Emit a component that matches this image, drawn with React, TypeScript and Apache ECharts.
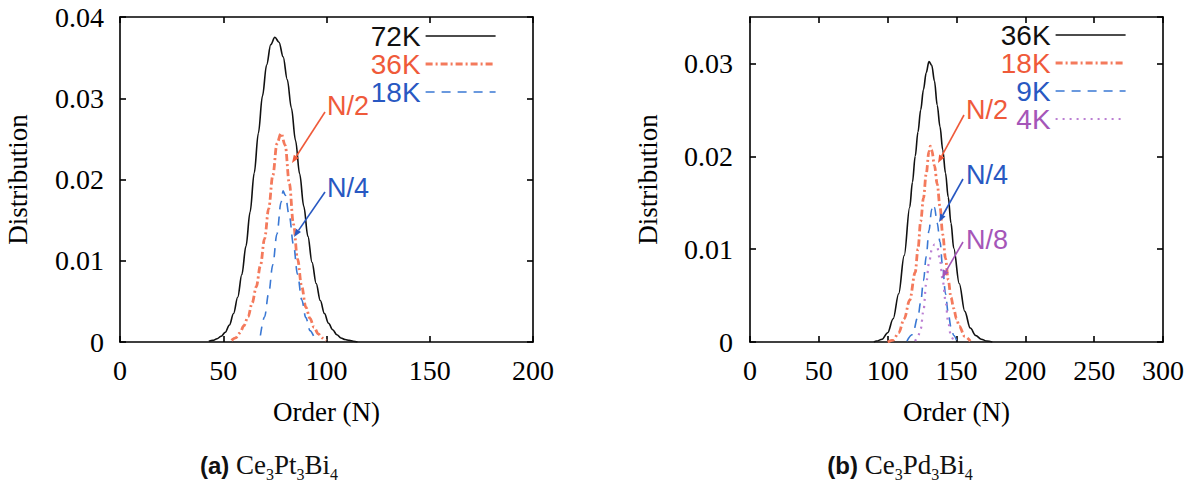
import React, { useEffect, useRef } from "react";
import * as echarts from "echarts";

// ---------- Panel (a) Ce3Pt3Bi4 ----------
const aOrder72K = [43, 45, 47, 49, 51, 53, 55, 57, 59, 61, 63, 65, 67, 69, 71, 73, 75, 77, 79, 81, 83, 85, 87, 89, 91, 93, 95, 97, 99, 101, 103, 105, 107, 109, 111, 113, 115];
const aDist72K = [0.0001, 0.0002, 0.0004, 0.0007, 0.0012, 0.0021, 0.0035, 0.0055, 0.0083, 0.0118, 0.016, 0.0208, 0.0257, 0.0303, 0.0341, 0.0366, 0.0375, 0.0369, 0.0351, 0.0323, 0.0288, 0.0248, 0.0207, 0.0167, 0.013, 0.0098, 0.0072, 0.0051, 0.0035, 0.0023, 0.0015, 0.0009, 0.0005, 0.0003, 0.0002, 0.0001, 0.0];

const aOrder36K = [54, 56, 58, 60, 62, 64, 66, 68, 70, 72, 74, 76, 78, 80, 82, 84, 86, 88, 90, 92, 94, 96, 98, 100];
const aDist36K = [0.0002, 0.0005, 0.0011, 0.002, 0.0031, 0.0048, 0.0068, 0.0094, 0.0127, 0.0164, 0.0205, 0.0244, 0.0257, 0.0242, 0.0195, 0.0145, 0.0102, 0.0068, 0.0043, 0.0029, 0.0018, 0.001, 0.0005, 0.0002];

const aOrder18K = [68, 70, 72, 74, 76, 78, 79, 80, 82, 84, 86, 88, 90, 92, 94];
const aDist18K = [0.0008, 0.0031, 0.006, 0.0095, 0.0133, 0.0172, 0.0186, 0.0181, 0.0155, 0.012, 0.0083, 0.0052, 0.003, 0.0014, 0.0006];

// ---------- Panel (b) Ce3Pd3Bi4 ----------
const bOrder36K = [90, 92, 96, 100, 104, 108, 112, 116, 118, 120, 122, 124, 126, 128, 130, 132, 134, 136, 138, 140, 142, 144, 146, 148, 152, 156, 160, 164, 168, 172, 176];
const bDist36K = [0.0, 0.0001, 0.0003, 0.001, 0.0025, 0.0052, 0.0093, 0.0145, 0.0172, 0.02, 0.0226, 0.025, 0.0272, 0.029, 0.0302, 0.0298, 0.0281, 0.0255, 0.0232, 0.0207, 0.0182, 0.0156, 0.0128, 0.0101, 0.0063, 0.0033, 0.0015, 0.0007, 0.0003, 0.0001, 0.0];

const bOrder18K = [100, 104, 108, 112, 116, 120, 122, 124, 126, 128, 130, 131, 132, 134, 136, 138, 140, 142, 144, 146, 148, 150, 152, 156, 160];
const bDist18K = [0.0, 0.0002, 0.001, 0.0025, 0.0045, 0.0075, 0.01, 0.013, 0.0155, 0.0181, 0.0205, 0.0211, 0.0207, 0.019, 0.017, 0.0146, 0.0116, 0.009, 0.0067, 0.0048, 0.0036, 0.0025, 0.0017, 0.0006, 0.0001];

const bOrder9K = [114, 118, 122, 124, 126, 128, 130, 132, 133, 134, 136, 138, 140, 142, 144, 146, 148, 150];
const bDist9K = [0.0001, 0.0008, 0.0027, 0.0043, 0.0066, 0.0092, 0.012, 0.0143, 0.0148, 0.0145, 0.0128, 0.0108, 0.008, 0.0052, 0.0031, 0.0016, 0.0007, 0.0002];

const bOrder4K = [120, 122, 124, 126, 128, 130, 132, 134, 136, 138, 140, 142, 144, 146, 148];
const bDist4K = [0.0001, 0.0006, 0.0014, 0.0034, 0.0063, 0.0085, 0.0099, 0.0105, 0.0102, 0.0088, 0.0066, 0.0045, 0.0021, 0.0006, 0.0001];

const legendA = ["72K", "36K", "18K"];
const legendB = ["36K", "18K", "9K", "4K"];
const xTicksA = { min: 0, max: 200, interval: 50 };
const xTicksB = { min: 0, max: 300, interval: 50 };
const yTicksA = { min: 0, max: 0.04, interval: 0.01 };
const yTicksB = { min: 0, max: 0.035, interval: 0.01 };

const BLACK = "#111111";
const RED_LINE = "#f47a5c";
const RED_TEXT = "#ef5a3a";
const BLUE_LINE = "#3a78d4";
const BLUE_TEXT = "#2858c2";
const PURPLE_LINE = "#bb7fd3";
const PURPLE_TEXT = "#a556b8";

const SERIF = "'Liberation Serif', 'Times New Roman', serif";
const SANS = "'Liberation Sans', Arial, sans-serif";

const zip = (xs: number[], ys: number[]) => xs.map((x, i) => [x, ys[i]]);

function lineSeries(id: string, xs: number[], ys: number[], color: string, width: number, dash: any, axis: number) {
  return {
    id,
    name: id,
    type: "line",
    xAxisIndex: axis,
    yAxisIndex: axis,
    data: zip(xs, ys),
    symbol: "none",
    smooth: 0.35,
    smoothMonotone: "x",
    lineStyle: { color, width, type: dash, cap: "butt" },
    itemStyle: { color },
    z: 3,
  };
}

function arrow(x1: number, y1: number, x2: number, y2: number, color: string) {
  const dx = x2 - x1;
  const dy = y2 - y1;
  const len = Math.sqrt(dx * dx + dy * dy);
  const ux = dx / len;
  const uy = dy / len;
  const px = -uy;
  const py = ux;
  const bx = x2 - ux * 8;
  const by = y2 - uy * 8;
  return [
    { type: "line", shape: { x1, y1, x2: bx, y2: by }, style: { stroke: color, lineWidth: 1.6 }, z: 10 },
    {
      type: "polygon",
      shape: { points: [[x2, y2], [bx + px * 3, by + py * 3], [bx - px * 3, by - py * 3]] },
      style: { fill: color },
      z: 10,
    },
  ];
}

function annText(x: number, y: number, text: string, color: string) {
  return {
    type: "text",
    x,
    y,
    z: 10,
    style: { text, fill: color, fontSize: 27, fontFamily: SANS, align: "left", verticalAlign: "middle" },
  };
}

function caption(x: number, letter: string, metal: string) {
  return {
    type: "text",
    x,
    y: 465,
    z: 10,
    style: {
      text: `{b|(${letter})} {f|Ce}{s|3}{f|${metal}}{s|3}{f|Bi}{s|4}`,
      align: "center",
      verticalAlign: "middle",
      fill: "#111",
      fontSize: 24,
      rich: {
        b: { fontFamily: SANS, fontWeight: "bold", fontSize: 24, fill: "#111" },
        f: { fontFamily: SERIF, fontSize: 27, fill: "#111" },
        s: { fontFamily: SERIF, fontSize: 16, fill: "#111", padding: [18, 0, 0, 0] },
      },
    },
  };
}

const axisLineStyle = { color: "#000", width: 1.6 };

function xAxes(grid: number, ticks: any) {
  return [
    {
      gridIndex: grid,
      type: "value",
      position: "bottom",
      ...ticks,
      axisLine: { show: true, onZero: false, lineStyle: axisLineStyle },
      axisTick: { show: true, inside: true, length: 6, lineStyle: axisLineStyle },
      axisLabel: { show: true, fontFamily: SERIF, fontSize: 28, color: "#000", margin: 14 },
      splitLine: { show: false },
      name: "Order (N)",
      nameLocation: "middle",
      nameGap: 56,
      nameTextStyle: { fontFamily: SERIF, fontSize: 27, color: "#000" },
    },
    {
      gridIndex: grid,
      type: "value",
      position: "top",
      ...ticks,
      axisLine: { show: true, onZero: false, lineStyle: axisLineStyle },
      axisTick: { show: true, inside: true, length: 6, lineStyle: axisLineStyle },
      axisLabel: { show: false },
      splitLine: { show: false },
    },
  ];
}

function yAxes(grid: number, ticks: any, margin: number) {
  return [
    {
      gridIndex: grid,
      type: "value",
      position: "left",
      ...ticks,
      axisLine: { show: true, onZero: false, lineStyle: axisLineStyle },
      axisTick: { show: true, inside: true, length: 6, lineStyle: axisLineStyle },
      axisLabel: { show: true, fontFamily: SERIF, fontSize: 28, color: "#000", margin, showMaxLabel: ticks.max === 0.04 },
      splitLine: { show: false },
      name: "Distribution",
      nameLocation: "middle",
      nameGap: 89,
      nameRotate: 90,
      nameTextStyle: { fontFamily: SERIF, fontSize: 27, color: "#000" },
    },
    {
      gridIndex: grid,
      type: "value",
      position: "right",
      ...ticks,
      axisLine: { show: true, onZero: false, lineStyle: axisLineStyle },
      axisTick: { show: true, inside: true, length: 6, lineStyle: axisLineStyle },
      axisLabel: { show: false },
      splitLine: { show: false },
    },
  ];
}

const legendLabels: Record<string, string> = {
  a72: legendA[0], a36: legendA[1], a18: legendA[2],
  b36: legendB[0], b18: legendB[1], b9: legendB[2], b4: legendB[3],
};

function legendBlock(ids: string[], colors: string[], right: number, top: number, gap: number) {
  return {
    orient: "vertical",
    right,
    top,
    padding: 0,
    align: "right",
    itemWidth: 70,
    itemHeight: 14,
    itemGap: gap,
    selectedMode: false,
    formatter: (n: string) => legendLabels[n],
    itemStyle: { color: "rgba(0,0,0,0)", borderWidth: 0, opacity: 0 },
    lineStyle: { width: "inherit", type: "inherit" },
    textStyle: { fontFamily: SANS, fontSize: 28, lineHeight: 28, padding: 0 },
    data: ids.map((id, i) => ({ name: id, textStyle: { color: colors[i] } })),
  };
}

export default function App() {
  const ref = useRef<HTMLDivElement>(null);
  useEffect(() => {
    if (!ref.current) return;
    const chart = echarts.init(ref.current, null, { renderer: "svg" });
    const option: any = {
      animation: false,
      backgroundColor: "#ffffff",
      grid: [
        { left: 120, top: 17, width: 413, height: 325, show: false },
        { left: 750, top: 17, width: 413, height: 325, show: false },
      ],
      xAxis: [...xAxes(0, xTicksA), ...xAxes(1, xTicksB)],
      yAxis: [...yAxes(0, yTicksA, 16), ...yAxes(1, yTicksB, 17)],
      legend: [
        legendBlock(["a72", "a36", "a18"], [BLACK, RED_TEXT, BLUE_TEXT], 698, 22, 0),
        legendBlock(["b36", "b18", "b9", "b4"], [BLACK, RED_TEXT, BLUE_TEXT, PURPLE_TEXT], 68, 21, 0),
      ],
      series: [
        lineSeries("a72", aOrder72K, aDist72K, BLACK, 1.6, "solid", 0),
        lineSeries("a36", aOrder36K, aDist36K, RED_LINE, 2.8, [7, 3, 2, 3], 0),
        lineSeries("a18", aOrder18K, aDist18K, BLUE_LINE, 1.6, [9, 7], 0),
        lineSeries("b36", bOrder36K, bDist36K, BLACK, 1.6, "solid", 2),
        lineSeries("b18", bOrder18K, bDist18K, RED_LINE, 2.8, [7, 3, 2, 3], 2),
        lineSeries("b9", bOrder9K, bDist9K, BLUE_LINE, 1.6, [9, 7], 2),
        lineSeries("b4", bOrder4K, bDist4K, PURPLE_LINE, 2.2, [2, 5], 2),
      ],
      graphic: [
        annText(327, 106, "N/2", RED_TEXT),
        ...arrow(325, 112, 292, 163, RED_TEXT),
        annText(327, 188, "N/4", BLUE_TEXT),
        ...arrow(325, 192, 294, 237, BLUE_TEXT),
        annText(966, 110, "N/2", RED_TEXT),
        ...arrow(964, 115, 938, 163, RED_TEXT),
        annText(966, 175, "N/4", BLUE_TEXT),
        ...arrow(963, 179, 939, 222, BLUE_TEXT),
        annText(966, 240, "N/8", PURPLE_TEXT),
        ...arrow(963, 242, 942, 278, PURPLE_TEXT),
        caption(269, "a", "Pt"),
        caption(900, "b", "Pd"),
      ],
    };
    chart.setOption(option);
    return () => chart.dispose();
  }, []);
  return (
    <div
      ref={ref}
      style={{ position: "absolute", left: 0, top: 0, width: 1195, height: 489, background: "#fff" }}
    />
  );
}
